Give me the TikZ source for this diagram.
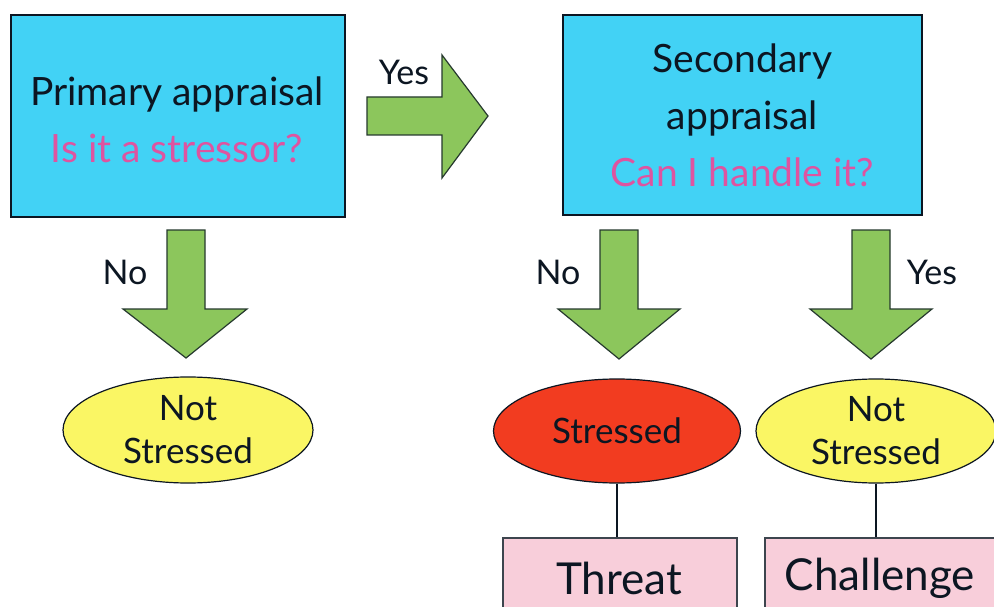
\documentclass[tikz,border=0pt]{standalone}
\usepackage{fontspec}
\setmainfont{Lato}
\usetikzlibrary{shapes.geometric}
\definecolor{boxblue}{RGB}{66,210,245}
\definecolor{qpink}{RGB}{222,84,160}
\definecolor{arrgreen}{RGB}{140,198,92}
\definecolor{ellyellow}{RGB}{250,246,100}
\definecolor{ellred}{RGB}{242,60,32}
\definecolor{boxpink}{RGB}{248,206,218}
\definecolor{inkdark}{RGB}{12,22,34}
\tikzset{
  bluebox/.style={draw=inkdark, line width=1.8pt, fill=boxblue, align=center, text=inkdark,
    font=\fontsize{39}{57}\selectfont, inner sep=0pt},
  ellnode/.style={ellipse, draw=inkdark, line width=1.2pt, align=center, text=inkdark,
    font=\fontsize{35}{43}\selectfont, inner sep=0pt},
  pinkbox/.style={draw=inkdark!80, line width=1.2pt, fill=boxpink, text=inkdark,
    font=\fontsize{44}{46}\selectfont, inner sep=0pt},
  blockarrow/.style={draw=inkdark!80!arrgreen, line width=1.2pt, fill=arrgreen, line join=miter},
  lbl/.style={text=inkdark, font=\fontsize{34}{36}\selectfont, inner sep=0pt},
  link/.style={draw=inkdark, line width=1.5pt}
}
\begin{document}
\begin{tikzpicture}[x=1pt,y=-1pt]
\useasboundingbox (0,0) rectangle (994,607);
\clip (0,0) rectangle (994,607);
\fill[white] (0,0) rectangle (994,607);

\node[bluebox, minimum width=334pt, minimum height=202pt] (prim) at (178,116) {};
\node[align=center, text=inkdark, font=\fontsize{39}{57}\selectfont, inner sep=0pt] (primtxt) at (177,120)
  {Primary appraisal\\\textcolor{qpink}{Is it a stressor?}};
\node[bluebox, minimum width=359pt, minimum height=200pt] (sec) at (742.5,115)
  {Secondary\\appraisal\\\textcolor{qpink}{Can I handle it?}};

\draw[blockarrow] (367,97) -- (442,97) -- (442,55) -- (488,116) -- (442,178) -- (442,135) -- (367,135) -- cycle;
\draw[blockarrow] (167,230) -- (205,230) -- (205,309) -- (247,309) -- (186,358) -- (123,309) -- (167,309) -- cycle;
\draw[blockarrow] (600,230) -- (638,230) -- (638,309) -- (680,309) -- (619,359) -- (558,309) -- (600,309) -- cycle;
\draw[blockarrow] (852,230) -- (890,230) -- (890,309) -- (932,309) -- (871,359) -- (810,309) -- (852,309) -- cycle;

\node[lbl] (lyes1) at (404,72) {Yes};
\node[lbl] (lno1) at (125,272) {No};
\node[lbl] (lno2) at (558,272) {No};
\node[lbl] (lyes2) at (932,272) {Yes};

\node[ellnode, fill=ellyellow, minimum width=250pt, minimum height=106pt] (ns1) at (188,430) {Not\\Stressed};
\node[ellnode, fill=ellred, minimum width=247pt, minimum height=104pt] (st) at (617,431) {Stressed};
\node[ellnode, fill=ellyellow, minimum width=240pt, minimum height=104pt] (ns2) at (876,431) {Not\\Stressed};

\node[pinkbox, minimum width=234pt, minimum height=84pt] (threat) at (620,580) {};
\node[text=inkdark, font=\fontsize{44}{46}\selectfont, inner sep=0pt] (threattxt) at (619,578) {Threat};
\node[pinkbox, minimum width=236pt, minimum height=84pt] (chal) at (883,580) {};
\node[text=inkdark, font=\fontsize{44}{46}\selectfont, inner sep=0pt] (chaltxt) at (880,578) {Challenge};

\draw[link] (st.south) -- (st.south |- threat.north);
\draw[link] (ns2.south) -- (ns2.south |- chal.north);
\end{tikzpicture}
\end{document}
